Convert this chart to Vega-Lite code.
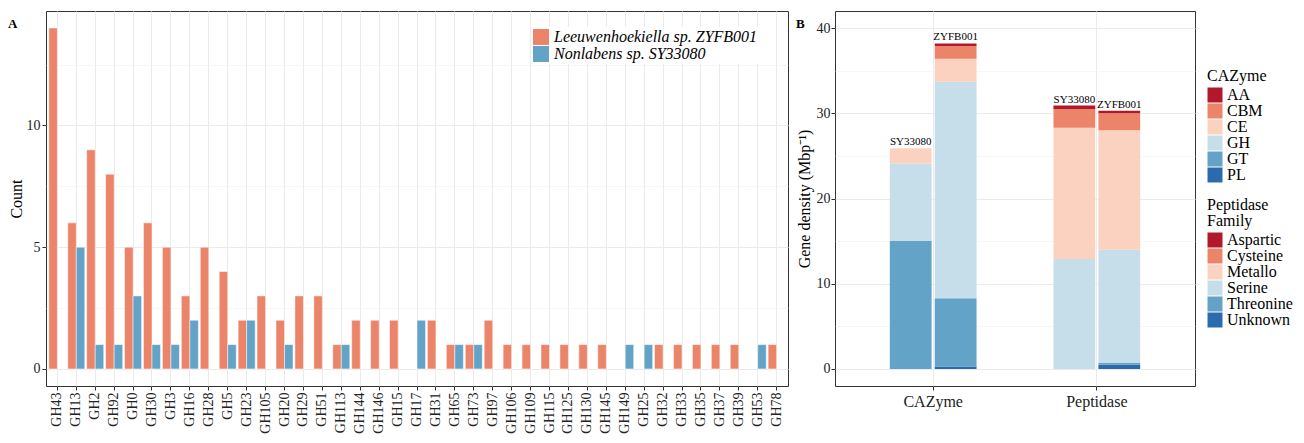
{
  "$schema": "https://vega.github.io/schema/vega-lite/v6.json",
  "padding": {"left": 7, "top": 10, "right": 5, "bottom": 0},
  "spacing": 6,
  "resolve": {"scale": {"xOffset": "independent", "color": "independent", "x": "independent", "y": "independent"}},
  "config": {
    "font": "Liberation Serif",
    "view": {"stroke": "#333333", "strokeWidth": 1},
    "axis": {
      "domain": false,
      "tickColor": "#333333",
      "tickSize": 4,
      "labelColor": "#222222",
      "labelFontSize": 14,
      "titleFontSize": 16,
      "titleFontWeight": "normal",
      "titleColor": "#000000",
      "gridColor": "#EBEBEB"
    },
    "legend": {
      "labelFontSize": 16,
      "titleFontSize": 16,
      "titleFontWeight": "normal",
      "titleColor": "#000000",
      "labelColor": "#000000",
      "symbolType": "square",
      "symbolStrokeWidth": 0,
      "labelLimit": 400
    }
  },
  "hconcat": [
    {
      "width": 742,
      "height": 375,
      "title": {"text": "A", "anchor": "start", "frame": "bounds", "offset": 0, "dy": 30, "baseline": "alphabetic", "fontSize": 13, "fontWeight": "bold", "color": "#000000"},
      "data": {
        "values": [
          {"family": "GH43", "strain": "ZYFB001", "count": 14},
          {"family": "GH13", "strain": "ZYFB001", "count": 6},
          {"family": "GH13", "strain": "SY33080", "count": 5},
          {"family": "GH2", "strain": "ZYFB001", "count": 9},
          {"family": "GH2", "strain": "SY33080", "count": 1},
          {"family": "GH92", "strain": "ZYFB001", "count": 8},
          {"family": "GH92", "strain": "SY33080", "count": 1},
          {"family": "GH0", "strain": "ZYFB001", "count": 5},
          {"family": "GH0", "strain": "SY33080", "count": 3},
          {"family": "GH30", "strain": "ZYFB001", "count": 6},
          {"family": "GH30", "strain": "SY33080", "count": 1},
          {"family": "GH3", "strain": "ZYFB001", "count": 5},
          {"family": "GH3", "strain": "SY33080", "count": 1},
          {"family": "GH16", "strain": "ZYFB001", "count": 3},
          {"family": "GH16", "strain": "SY33080", "count": 2},
          {"family": "GH28", "strain": "ZYFB001", "count": 5},
          {"family": "GH5", "strain": "ZYFB001", "count": 4},
          {"family": "GH5", "strain": "SY33080", "count": 1},
          {"family": "GH23", "strain": "ZYFB001", "count": 2},
          {"family": "GH23", "strain": "SY33080", "count": 2},
          {"family": "GH105", "strain": "ZYFB001", "count": 3},
          {"family": "GH20", "strain": "ZYFB001", "count": 2},
          {"family": "GH20", "strain": "SY33080", "count": 1},
          {"family": "GH29", "strain": "ZYFB001", "count": 3},
          {"family": "GH51", "strain": "ZYFB001", "count": 3},
          {"family": "GH113", "strain": "ZYFB001", "count": 1},
          {"family": "GH113", "strain": "SY33080", "count": 1},
          {"family": "GH144", "strain": "ZYFB001", "count": 2},
          {"family": "GH146", "strain": "ZYFB001", "count": 2},
          {"family": "GH15", "strain": "ZYFB001", "count": 2},
          {"family": "GH17", "strain": "SY33080", "count": 2},
          {"family": "GH31", "strain": "ZYFB001", "count": 2},
          {"family": "GH65", "strain": "ZYFB001", "count": 1},
          {"family": "GH65", "strain": "SY33080", "count": 1},
          {"family": "GH73", "strain": "ZYFB001", "count": 1},
          {"family": "GH73", "strain": "SY33080", "count": 1},
          {"family": "GH97", "strain": "ZYFB001", "count": 2},
          {"family": "GH106", "strain": "ZYFB001", "count": 1},
          {"family": "GH109", "strain": "ZYFB001", "count": 1},
          {"family": "GH115", "strain": "ZYFB001", "count": 1},
          {"family": "GH125", "strain": "ZYFB001", "count": 1},
          {"family": "GH130", "strain": "ZYFB001", "count": 1},
          {"family": "GH145", "strain": "ZYFB001", "count": 1},
          {"family": "GH149", "strain": "SY33080", "count": 1},
          {"family": "GH25", "strain": "SY33080", "count": 1},
          {"family": "GH32", "strain": "ZYFB001", "count": 1},
          {"family": "GH33", "strain": "ZYFB001", "count": 1},
          {"family": "GH35", "strain": "ZYFB001", "count": 1},
          {"family": "GH37", "strain": "ZYFB001", "count": 1},
          {"family": "GH39", "strain": "ZYFB001", "count": 1},
          {"family": "GH53", "strain": "SY33080", "count": 1},
          {"family": "GH78", "strain": "ZYFB001", "count": 1}
        ]
      },
      "mark": {"type": "bar", "stroke": "white", "strokeWidth": 0.5},
      "encoding": {
        "x": {
          "field": "family",
          "type": "nominal",
          "scale": {
            "domain": ["GH43","GH13","GH2","GH92","GH0","GH30","GH3","GH16","GH28","GH5","GH23","GH105","GH20","GH29","GH51","GH113","GH144","GH146","GH15","GH17","GH31","GH65","GH73","GH97","GH106","GH109","GH115","GH125","GH130","GH145","GH149","GH25","GH32","GH33","GH35","GH37","GH39","GH53","GH78"],
            "paddingInner": 0.1,
            "paddingOuter": 0.15
          },
          "axis": {"title": null, "labelAngle": -90, "grid": true, "gridWidth": 1, "bandPosition": 0.5, "labelPadding": 2}
        },
        "xOffset": {
          "field": "strain",
          "type": "nominal",
          "scale": {"domain": ["ZYFB001", "SY33080"], "paddingInner": 0, "paddingOuter": 0}
        },
        "y": {
          "field": "count",
          "type": "quantitative",
          "scale": {"domain": [-0.7, 14.7], "nice": false, "zero": false},
          "axis": {
            "title": "Count",
            "values": [0, 2.5, 5, 7.5, 10, 12.5],
            "labelExpr": "datum.value % 5 === 0 ? format(datum.value, 'd') : ''",
            "gridWidth": {"condition": {"test": "datum.value % 5 !== 0", "value": 0.6}, "value": 1},
            "gridColor": {"condition": {"test": "datum.value % 5 !== 0", "value": "#F2F2F2"}, "value": "#EBEBEB"},
            "tickOpacity": {"condition": {"test": "datum.value % 5 !== 0", "value": 0}, "value": 1},
            "labelPadding": 2,
            "titlePadding": 2
          }
        },
        "color": {
          "field": "strain",
          "type": "nominal",
          "scale": {"domain": ["ZYFB001", "SY33080"], "range": ["#EB8468", "#62A3C7"]},
          "legend": {
            "title": null,
            "orient": "none",
            "legendX": 485,
            "legendY": 16,
            "direction": "vertical",
            "symbolSize": 256,
            "labelFontStyle": "italic",
            "labelOffset": 5,
            "rowPadding": 1,
            "padding": 2,
            "fillColor": "white",
            "labelExpr": "datum.value === 'ZYFB001' ? 'Leeuwenhoekiella sp. ZYFB001' : 'Nonlabens sp. SY33080'"
          }
        }
      }
    },
    {
      "width": 360,
      "height": 375,
      "title": {"text": "B", "anchor": "start", "frame": "bounds", "offset": 0, "dy": 30, "baseline": "alphabetic", "fontSize": 13, "fontWeight": "bold", "color": "#000000"},
      "data": {
        "values": [
          {"type": "CAZyme", "strain": "SY33080", "cls": "GT", "value": 15.0},
          {"type": "CAZyme", "strain": "SY33080", "cls": "GH", "value": 9.1},
          {"type": "CAZyme", "strain": "SY33080", "cls": "CE", "value": 1.8},
          {"type": "CAZyme", "strain": "ZYFB001", "cls": "PL", "value": 0.3},
          {"type": "CAZyme", "strain": "ZYFB001", "cls": "GT", "value": 8.0},
          {"type": "CAZyme", "strain": "ZYFB001", "cls": "GH", "value": 25.4},
          {"type": "CAZyme", "strain": "ZYFB001", "cls": "CE", "value": 2.7},
          {"type": "CAZyme", "strain": "ZYFB001", "cls": "CBM", "value": 1.5},
          {"type": "CAZyme", "strain": "ZYFB001", "cls": "AA", "value": 0.3},
          {"type": "Peptidase", "strain": "SY33080", "cls": "Serine", "value": 12.9},
          {"type": "Peptidase", "strain": "SY33080", "cls": "Metallo", "value": 15.4},
          {"type": "Peptidase", "strain": "SY33080", "cls": "Cysteine", "value": 2.2},
          {"type": "Peptidase", "strain": "SY33080", "cls": "Aspartic", "value": 0.4},
          {"type": "Peptidase", "strain": "ZYFB001", "cls": "Unknown", "value": 0.5},
          {"type": "Peptidase", "strain": "ZYFB001", "cls": "Threonine", "value": 0.2},
          {"type": "Peptidase", "strain": "ZYFB001", "cls": "Serine", "value": 13.3},
          {"type": "Peptidase", "strain": "ZYFB001", "cls": "Metallo", "value": 14.0},
          {"type": "Peptidase", "strain": "ZYFB001", "cls": "Cysteine", "value": 2.0},
          {"type": "Peptidase", "strain": "ZYFB001", "cls": "Aspartic", "value": 0.3}
        ]
      },
      "encoding": {
        "x": {
          "field": "type",
          "type": "nominal",
          "scale": {"domain": ["CAZyme", "Peptidase"], "paddingInner": 0.47, "paddingOuter": 0.335},
          "axis": {"title": null, "labelAngle": 0, "grid": true, "gridWidth": 1, "bandPosition": 0.5, "labelFontSize": 16, "labelPadding": 3}
        },
        "xOffset": {
          "field": "strain",
          "type": "nominal",
          "scale": {"domain": ["SY33080", "ZYFB001"], "paddingInner": 0.07, "paddingOuter": 0}
        }
      },
      "layer": [
        {
          "transform": [{"filter": "datum.type === 'CAZyme'"}],
          "mark": {"type": "bar"},
          "encoding": {
            "y": {
              "field": "value",
              "type": "quantitative",
              "scale": {"domain": [-2, 42], "nice": false, "zero": false},
              "axis": {
                "title": "Gene density (Mbp⁻¹)",
                "values": [0, 5, 10, 15, 20, 25, 30, 35, 40],
                "labelExpr": "datum.value % 10 === 0 ? format(datum.value, 'd') : ''",
                "gridWidth": {"condition": {"test": "datum.value % 10 !== 0", "value": 0.6}, "value": 1},
                "gridColor": {"condition": {"test": "datum.value % 10 !== 0", "value": "#F2F2F2"}, "value": "#EBEBEB"},
                "tickOpacity": {"condition": {"test": "datum.value % 10 !== 0", "value": 0}, "value": 1},
                "labelPadding": 1,
                "titlePadding": 4
              }
            },
            "color": {
              "field": "cls",
              "type": "nominal",
              "scale": {"domain": ["AA", "CBM", "CE", "GH", "GT", "PL"], "range": ["#B2182B", "#EB8468", "#FBD2BF", "#C6DEEA", "#62A3C7", "#2C6AAE"]},
              "legend": {"title": "CAZyme", "orient": "none", "legendX": 372, "legendY": 57, "symbolSize": 225, "labelOffset": 4, "rowPadding": 0, "titlePadding": 3, "padding": 0}
            },
            "order": {"field": "cls", "sort": "descending"}
          }
        },
        {
          "transform": [{"filter": "datum.type === 'Peptidase'"}],
          "mark": {"type": "bar"},
          "encoding": {
            "y": {"field": "value", "type": "quantitative"},
            "color": {
              "field": "cls",
              "type": "nominal",
              "scale": {"domain": ["Aspartic", "Cysteine", "Metallo", "Serine", "Threonine", "Unknown"], "range": ["#B2182B", "#EB8468", "#FBD2BF", "#C6DEEA", "#62A3C7", "#2C6AAE"]},
              "legend": {"title": ["Peptidase", "Family"], "titleLineHeight": 16, "orient": "none", "legendX": 372, "legendY": 186, "symbolSize": 225, "labelOffset": 4, "rowPadding": 0, "titlePadding": 3, "padding": 0}
            },
            "order": {"field": "cls", "sort": "descending"}
          }
        },
        {
          "transform": [{"aggregate": [{"op": "sum", "field": "value", "as": "total"}], "groupby": ["type", "strain"]}],
          "mark": {"type": "text", "baseline": "bottom", "dy": -1, "fontSize": 11, "color": "#000000"},
          "encoding": {
            "y": {"field": "total", "type": "quantitative"},
            "text": {"field": "strain"}
          }
        }
      ],
      "resolve": {"scale": {"color": "independent"}}
    }
  ]
}
